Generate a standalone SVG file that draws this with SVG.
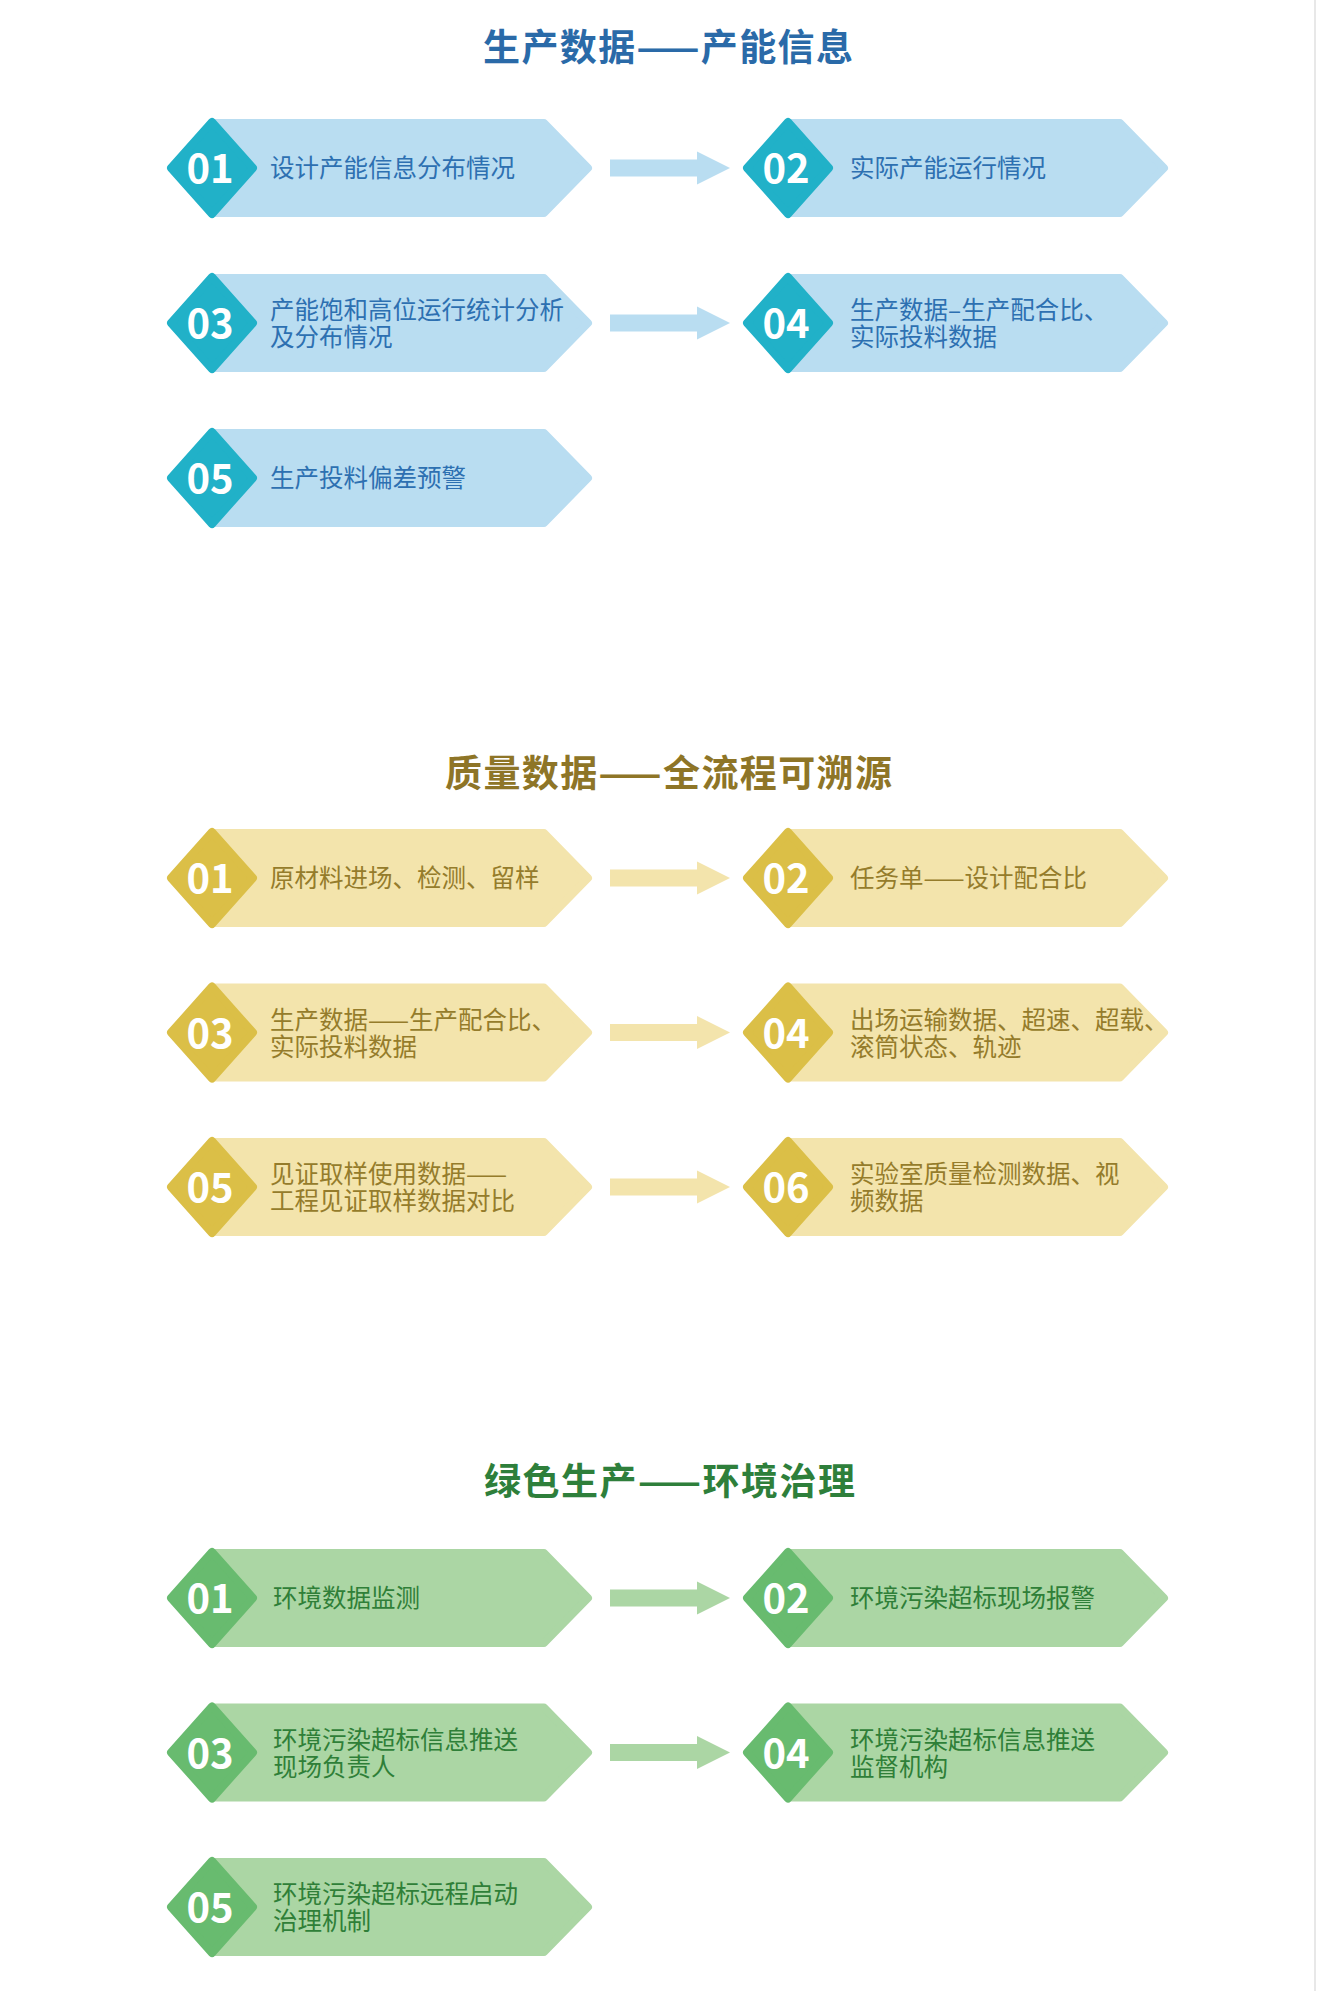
<svg xmlns="http://www.w3.org/2000/svg" width="1341" height="1991" viewBox="0 0 1341 1991">
<defs>
<style>
.title{font-family:"Noto Sans CJK SC","Liberation Sans",sans-serif;font-weight:700;font-size:37px;text-anchor:middle}
.lbl{font-family:"Noto Sans CJK SC","Liberation Sans",sans-serif;font-weight:400;font-size:24.5px}
.num{font-family:"Noto Sans CJK SC","Liberation Sans",sans-serif;font-weight:700;font-size:40px;fill:#ffffff;text-anchor:middle}
.body{stroke-width:8;stroke-linejoin:round}
.dia{stroke-width:8;stroke-linejoin:round}
.b .body{fill:#b9ddf1;stroke:#b9ddf1}.b .dia{fill:#21b1c8;stroke:#21b1c8}.b .lbl{fill:#2d70b1}
.y .body{fill:#f3e4ac;stroke:#f3e4ac}.y .dia{fill:#dbbf47;stroke:#dbbf47}.y .lbl{fill:#957c2b}
.g .body{fill:#abd6a4;stroke:#abd6a4}.g .dia{fill:#68bb6f;stroke:#68bb6f}.g .lbl{fill:#2f7f38}
.ab{fill:#b9ddf1}.ay{fill:#f3e4ac}.ag{fill:#abd6a4}
</style>
<path id="bodyShape" d="M0,-45 L332,-45 L376,0 L332,45 L0,45 Z"/>
<path id="diaShape" d="M-41,0 L0,-46 L41,0 L0,46 Z"/>
<polygon id="arrowShape" points="0,-8.5 87,-8.5 87,-16.5 120,0 87,16.5 87,8.5 0,8.5"/>
</defs>
<rect x="0" y="0" width="1341" height="1991" fill="#ffffff"/>
<line x1="1315" y1="0" x2="1315" y2="1991" stroke="#e8e8e8" stroke-width="2"/>

<text class="title" x="668" y="61" fill="#2a6aa8" textLength="370" lengthAdjust="spacing">生产数据——产能信息</text>
<text class="title" x="668.5" y="787" fill="#8e7527" textLength="447" lengthAdjust="spacing">质量数据——全流程可溯源</text>
<text class="title" x="669.5" y="1495" fill="#2e7f3b" textLength="371" lengthAdjust="spacing">绿色生产——环境治理</text>

<g id="connectors">
<use href="#arrowShape" class="ab" transform="translate(610,168)"/>
<use href="#arrowShape" class="ab" transform="translate(610,323)"/>
<use href="#arrowShape" class="ay" transform="translate(610,878)"/>
<use href="#arrowShape" class="ay" transform="translate(610,1032.5)"/>
<use href="#arrowShape" class="ay" transform="translate(610,1187)"/>
<use href="#arrowShape" class="ag" transform="translate(610,1598)"/>
<use href="#arrowShape" class="ag" transform="translate(610,1752.5)"/>
</g>

<g id="s1-n01" class="b" transform="translate(212,168)">
<use href="#bodyShape" class="body"/><use href="#diaShape" class="dia"/>
<text class="num" x="-2" y="15">01</text>
<text class="lbl" x="58" y="9">设计产能信息分布情况</text>
</g>
<g id="s1-n02" class="b" transform="translate(788,168)">
<use href="#bodyShape" class="body"/><use href="#diaShape" class="dia"/>
<text class="num" x="-2" y="15">02</text>
<text class="lbl" x="62" y="9">实际产能运行情况</text>
</g>
<g id="s1-n03" class="b" transform="translate(212,323)">
<use href="#bodyShape" class="body"/><use href="#diaShape" class="dia"/>
<text class="num" x="-2" y="15">03</text>
<text class="lbl"><tspan x="58" y="-4">产能饱和高位运行统计分析</tspan><tspan x="58" y="23">及分布情况</tspan></text>
</g>
<g id="s1-n04" class="b" transform="translate(788,323)">
<use href="#bodyShape" class="body"/><use href="#diaShape" class="dia"/>
<text class="num" x="-2" y="15">04</text>
<text class="lbl"><tspan x="62" y="-4">生产数据–生产配合比、</tspan><tspan x="62" y="23">实际投料数据</tspan></text>
</g>
<g id="s1-n05" class="b" transform="translate(212,478)">
<use href="#bodyShape" class="body"/><use href="#diaShape" class="dia"/>
<text class="num" x="-2" y="15">05</text>
<text class="lbl" x="58" y="9">生产投料偏差预警</text>
</g>

<g id="s2-n01" class="y" transform="translate(212,878)">
<use href="#bodyShape" class="body"/><use href="#diaShape" class="dia"/>
<text class="num" x="-2" y="15">01</text>
<text class="lbl" x="58" y="9">原材料进场、检测、留样</text>
</g>
<g id="s2-n02" class="y" transform="translate(788,878)">
<use href="#bodyShape" class="body"/><use href="#diaShape" class="dia"/>
<text class="num" x="-2" y="15">02</text>
<text class="lbl" x="62" y="9">任务单——设计配合比</text>
</g>
<g id="s2-n03" class="y" transform="translate(212,1032.5)">
<use href="#bodyShape" class="body"/><use href="#diaShape" class="dia"/>
<text class="num" x="-2" y="15">03</text>
<text class="lbl"><tspan x="58" y="-4">生产数据——生产配合比、</tspan><tspan x="58" y="23">实际投料数据</tspan></text>
</g>
<g id="s2-n04" class="y" transform="translate(788,1032.5)">
<use href="#bodyShape" class="body"/><use href="#diaShape" class="dia"/>
<text class="num" x="-2" y="15">04</text>
<text class="lbl"><tspan x="62" y="-4">出场运输数据、超速、超载、</tspan><tspan x="62" y="23">滚筒状态、轨迹</tspan></text>
</g>
<g id="s2-n05" class="y" transform="translate(212,1187)">
<use href="#bodyShape" class="body"/><use href="#diaShape" class="dia"/>
<text class="num" x="-2" y="15">05</text>
<text class="lbl"><tspan x="58" y="-4">见证取样使用数据——</tspan><tspan x="58" y="23">工程见证取样数据对比</tspan></text>
</g>
<g id="s2-n06" class="y" transform="translate(788,1187)">
<use href="#bodyShape" class="body"/><use href="#diaShape" class="dia"/>
<text class="num" x="-2" y="15">06</text>
<text class="lbl"><tspan x="62" y="-4">实验室质量检测数据、视</tspan><tspan x="62" y="23">频数据</tspan></text>
</g>

<g id="s3-n01" class="g" transform="translate(212,1598)">
<use href="#bodyShape" class="body"/><use href="#diaShape" class="dia"/>
<text class="num" x="-2" y="15">01</text>
<text class="lbl" x="61" y="9">环境数据监测</text>
</g>
<g id="s3-n02" class="g" transform="translate(788,1598)">
<use href="#bodyShape" class="body"/><use href="#diaShape" class="dia"/>
<text class="num" x="-2" y="15">02</text>
<text class="lbl" x="62" y="9">环境污染超标现场报警</text>
</g>
<g id="s3-n03" class="g" transform="translate(212,1752.5)">
<use href="#bodyShape" class="body"/><use href="#diaShape" class="dia"/>
<text class="num" x="-2" y="15">03</text>
<text class="lbl"><tspan x="61" y="-4">环境污染超标信息推送</tspan><tspan x="61" y="23">现场负责人</tspan></text>
</g>
<g id="s3-n04" class="g" transform="translate(788,1752.5)">
<use href="#bodyShape" class="body"/><use href="#diaShape" class="dia"/>
<text class="num" x="-2" y="15">04</text>
<text class="lbl"><tspan x="62" y="-4">环境污染超标信息推送</tspan><tspan x="62" y="23">监督机构</tspan></text>
</g>
<g id="s3-n05" class="g" transform="translate(212,1907)">
<use href="#bodyShape" class="body"/><use href="#diaShape" class="dia"/>
<text class="num" x="-2" y="15">05</text>
<text class="lbl"><tspan x="61" y="-4">环境污染超标远程启动</tspan><tspan x="61" y="23">治理机制</tspan></text>
</g>
</svg>
